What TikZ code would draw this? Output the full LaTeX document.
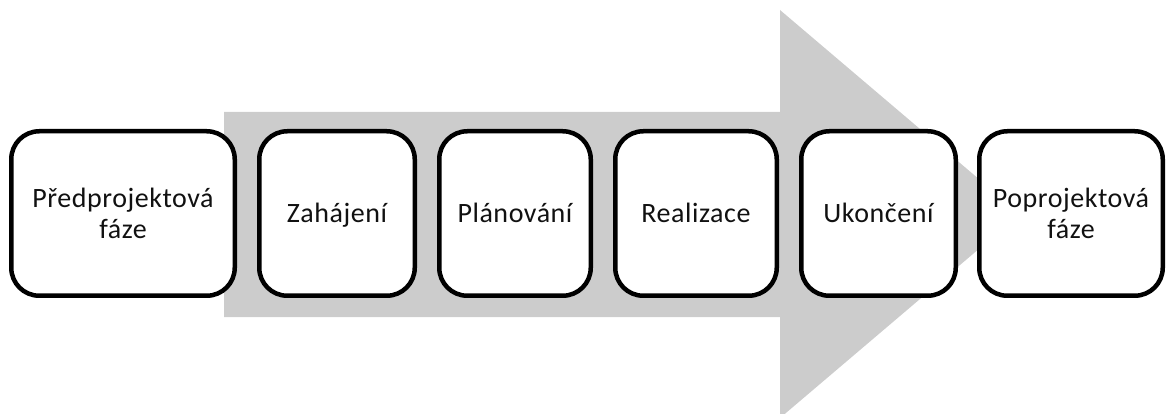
\documentclass[tikz,border=0pt]{standalone}
\usepackage{fontspec}
\setmainfont{Carlito}[LetterSpace=2]
\definecolor{arrowgray}{HTML}{CCCCCC}
\definecolor{textblack}{HTML}{111111}
\begin{document}
\begin{tikzpicture}[x=1pt,y=-1pt,
  phase/.style={draw=black, line width=4.5pt, rounded corners=28pt, fill=white,
    align=center, font=\fontsize{28}{30.5}\selectfont, text=textblack, inner sep=0pt,
    minimum height=164.5pt},
  oneline/.style={text height=22pt, text depth=3pt}]
\useasboundingbox (0,0) rectangle (1168,414);
\fill[arrowgray] (224,112) -- (780,112) -- (780,10) -- (1020,214) -- (780,418) -- (780,317) -- (224,317) -- cycle;
\node[phase, minimum width=223.5pt] (p1) at (123,213.5) {Předprojektová\\fáze};
\node[phase, oneline, minimum width=155.5pt] (p2) at (337,213.5) {Zahájení};
\node[phase, oneline, minimum width=151.5pt] (p3) at (515,213.5) {Plánování};
\node[phase, oneline, minimum width=161.5pt] (p4) at (696,213.5) {Realizace};
\node[phase, oneline, minimum width=154.5pt] (p5) at (878.5,213.5) {Ukončení};
\node[phase, minimum width=183.5pt] (p6) at (1071,213.5) {Poprojektová\\fáze};
\end{tikzpicture}
\end{document}
